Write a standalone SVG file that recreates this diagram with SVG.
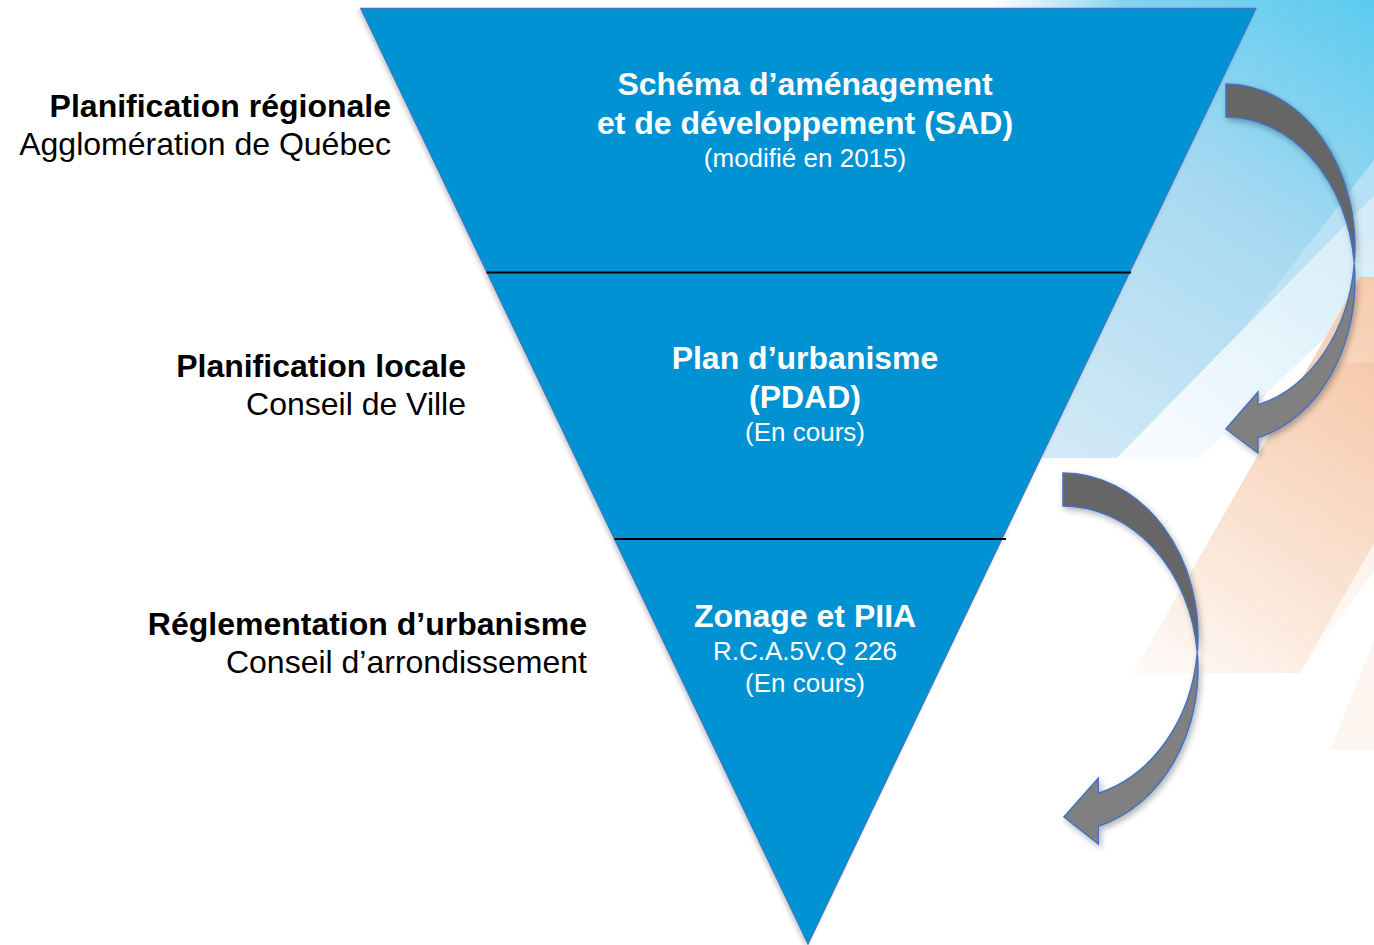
<svg xmlns="http://www.w3.org/2000/svg" width="1374" height="945" viewBox="0 0 1374 945">
  <defs>
    <style>
      .lbl-b { font-family: "Liberation Sans", Arial, sans-serif; font-weight: bold; font-size: 32px; fill: #000; }
      .lbl-r { font-family: "Liberation Sans", Arial, sans-serif; font-size: 32px; fill: #000; }
      .in-b { font-family: "Liberation Sans", Arial, sans-serif; font-weight: bold; font-size: 32px; fill: #fff; text-anchor: middle; }
      .in-r { font-family: "Liberation Sans", Arial, sans-serif; font-size: 26px; fill: #fff; text-anchor: middle; }
      .divider { stroke: #000; stroke-width: 2; }
      .arrow-back { fill: #666666; stroke: #4472C4; stroke-width: 1.5; stroke-linejoin: miter; }
      .arrow-front { fill: #808080; stroke: #4472C4; stroke-width: 1.5; stroke-linejoin: miter; }
    </style>
    <linearGradient id="blueBg" x1="1374" y1="0" x2="1080" y2="458" gradientUnits="userSpaceOnUse">
      <stop offset="0" stop-color="#5BCBEF"/>
      <stop offset="0.45" stop-color="#A6D9F1"/>
      <stop offset="1" stop-color="#D2E9F6"/>
    </linearGradient>
    <linearGradient id="topFade" x1="990" y1="0" x2="1374" y2="0" gradientUnits="userSpaceOnUse">
      <stop offset="0" stop-color="#ffffff" stop-opacity="1"/>
      <stop offset="0.35" stop-color="#ffffff" stop-opacity="0"/>
    </linearGradient>
    <linearGradient id="paleBlue" x1="1374" y1="200" x2="1180" y2="458" gradientUnits="userSpaceOnUse">
      <stop offset="0" stop-color="#D3ECF8"/>
      <stop offset="1" stop-color="#F6FBFE"/>
    </linearGradient>
    <linearGradient id="peach" x1="1420" y1="300" x2="1160" y2="680" gradientUnits="userSpaceOnUse">
      <stop offset="0" stop-color="#F6CBAC"/>
      <stop offset="0.5" stop-color="#FBE4D4"/>
      <stop offset="1" stop-color="#FEF9F6"/>
    </linearGradient>
    <linearGradient id="peach2" x1="1400" y1="380" x2="1220" y2="680" gradientUnits="userSpaceOnUse">
      <stop offset="0" stop-color="#F2B48A" stop-opacity="0.3"/>
      <stop offset="1" stop-color="#F2B48A" stop-opacity="0"/>
    </linearGradient>
    <filter id="softShadow" x="-20%" y="-20%" width="140%" height="140%">
      <feDropShadow dx="2" dy="3" stdDeviation="3" flood-color="#000" flood-opacity="0.3"/>
    </filter>
    <filter id="triShadow" x="-5%" y="-5%" width="110%" height="110%">
      <feDropShadow dx="-2" dy="2" stdDeviation="2" flood-color="#000" flood-opacity="0.2"/>
    </filter>
  </defs>

  <!-- page background -->
  <rect width="1374" height="945" fill="#ffffff"/>

  <!-- decorative backdrop bands -->
  <g id="backdrop">
    <polygon points="990,0 1374,0 1374,196 1117,458 990,458" fill="url(#blueBg)"/>
    <polygon points="990,0 1374,0 1374,20 990,20" fill="url(#topFade)"/>
    <polygon points="1240,333 1374,160 1374,196" fill="#C6E6F6" opacity="0.7"/>
    <polygon points="1117,458 1374,196 1374,290 1200,458" fill="url(#paleBlue)"/>
    <polygon points="1360,277 1526,277 1300,673 1133,673" fill="url(#peach)"/>
    <polygon points="1311,363 1526,363 1300,673 1133,673" fill="url(#peach2)"/>
    <polygon points="1374,640 1330,750 1374,750" fill="#FDF5F0"/>
  </g>

  <!-- inverted pyramid -->
  <g id="pyramid">
    <polygon points="360.7,8.3 1256,8.3 808,944" fill="#0292D3" stroke="#3F78C0" stroke-width="1.2" filter="url(#triShadow)"/>
    <line class="divider" x1="486.5" y1="272.5" x2="1131" y2="272.5"/>
    <line class="divider" x1="614.5" y1="539" x2="1006" y2="539"/>
  </g>

  <!-- tier 1 -->
  <g id="tier-sad">
    <text class="in-b" x="805" y="95">Schéma d’aménagement</text>
    <text class="in-b" x="805" y="134">et de développement (SAD)</text>
    <text class="in-r" x="805" y="167">(modifié en 2015)</text>
  </g>
  <g id="label-regional">
    <text class="lbl-b" x="391" y="117" text-anchor="end">Planification régionale</text>
    <text class="lbl-r" x="391" y="155" text-anchor="end">Agglomération de Québec</text>
  </g>

  <!-- tier 2 -->
  <g id="tier-pdad">
    <text class="in-b" x="805" y="369">Plan d’urbanisme</text>
    <text class="in-b" x="805" y="408">(PDAD)</text>
    <text class="in-r" x="805" y="441">(En cours)</text>
  </g>
  <g id="label-local">
    <text class="lbl-b" x="466" y="377" text-anchor="end">Planification locale</text>
    <text class="lbl-r" x="466" y="415" text-anchor="end">Conseil de Ville</text>
  </g>

  <!-- tier 3 -->
  <g id="tier-zonage">
    <text class="in-b" x="805" y="627">Zonage et PIIA</text>
    <text class="in-r" x="805" y="660">R.C.A.5V.Q 226</text>
    <text class="in-r" x="805" y="692">(En cours)</text>
  </g>
  <g id="label-reglementation">
    <text class="lbl-b" x="587" y="635" text-anchor="end">Réglementation d’urbanisme</text>
    <text class="lbl-r" x="587" y="673" text-anchor="end">Conseil d’arrondissement</text>
  </g>

  <!-- curved arrows between tiers -->
  <g id="connectors" filter="url(#softShadow)">
    <g id="arrow-sad-pdad">
      <path class="arrow-back" d="M1226,84 A129,163 0 0 1 1354.3,263.5 A129,163 0 0 0 1226,117 Z"/>
      <path class="arrow-front" d="M1258,404.9 A129,163 0 0 0 1354.3,263.5 A129,163 0 0 1 1258,437.9 L1258,453 L1226,429 L1258,392 Z"/>
    </g>
    <g id="arrow-pdad-zonage">
      <path class="arrow-back" d="M1063,473 A135,163 0 0 1 1197.3,652.5 A135,163 0 0 0 1063,506 Z"/>
      <path class="arrow-front" d="M1098.3,793.3 A135,163 0 0 0 1197.3,652.5 A135,163 0 0 1 1098.3,826.3 L1098.3,844 L1064,817 L1098.3,778.3 Z"/>
    </g>
  </g>
</svg>
